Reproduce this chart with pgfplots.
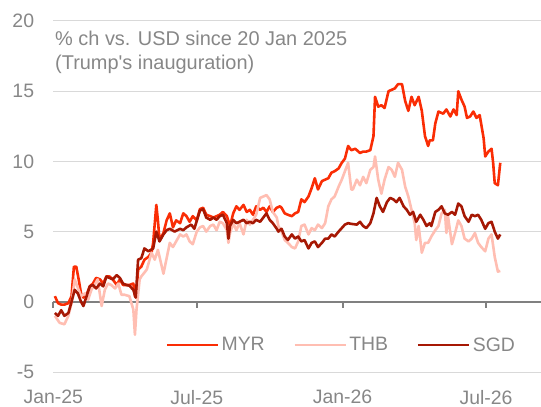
\documentclass[border=0pt]{standalone}
\usepackage{fontspec}
\setmainfont{Liberation Sans}
\usepackage{pgfplots}
\usepackage{pgfplotstable}
\pgfplotsset{compat=1.18}
\definecolor{myr}{RGB}{250,45,5}
\definecolor{thb}{RGB}{255,190,178}
\definecolor{sgd}{RGB}{166,24,4}
\definecolor{txtgray}{RGB}{135,135,135}
\definecolor{axgray}{RGB}{128,128,128}
\definecolor{gridgray}{RGB}{217,217,217}

% x = days since 1 Jan 2025, y = % change vs USD
\pgfplotstableread{
d v
2 0.4
6 -0.1
10 -0.2
14 -0.2
19 -0.1
23 0.4
26 2.5
29 2.5
32 1.6
35 0.6
38 0.3
42 0.5
46 1.1
50 1.3
54 1.7
59 1.6
63 1.3
67 1.8
71 1.8
75 1.6
80 1.2
84 1.6
88 1.2
92 1.2
96 1.2
101 1.3
103 0.4
105 0.3
107 2.3
111 2.5
115 3.0
120 3.2
124 3.5
126 4.2
130 6.9
132 5.8
134 4.4
139 4.9
143 5.8
147 6.3
151 5.3
155 5.8
160 5.6
164 6.3
168 6.1
172 5.7
176 6.1
181 5.8
185 6.6
189 6.7
193 6.2
198 6.1
202 6.0
206 6.1
210 6.2
214 6.4
219 6.1
223 5.4
227 6.3
231 6.8
235 6.55
240 6.9
244 6.4
248 6.55
252 6.2
256 6.8
261 6.55
265 6.7
269 6.4
273 6.8
277 6.4
282 6.7
286 6.8
288 6.7
292 6.3
296 6.2
301 6.1
305 6.3
309 6.4
313 7.3
317 7.1
322 7.5
326 8.1
330 8.8
334 8.0
339 8.6
343 8.7
347 8.8
351 9.2
355 9.3
360 9.5
364 9.9
368 10.2
372 11.1
376 10.8
381 10.9
387 10.6
391 10.7
395 10.7
400 10.8
404 11.8
406 14.6
410 13.9
414 14.0
418 13.8
423 15.0
427 15.1
431 15.2
435 15.5
440 15.5
444 14.3
448 13.6
452 14.6
456 14.0
461 14.6
465 13.6
469 11.8
473 11.1
475 11.5
479 11.5
482 12.7
486 13.55
492 13.4
496 13.7
501 13.2
505 13.7
509 13.3
511 15.0
515 14.4
519 13.9
522 13.1
526 13.2
530 13.55
534 13.1
538 13.3
543 11.65
545 10.35
549 10.7
553 10.9
555 9.9
557 8.45
561 8.3
564 9.9
}\myrdata

\pgfplotstableread{
d v
2 -1.0
8 -1.5
14 -1.6
19 -1.0
23 -0.1
27 1.6
31 1.0
35 0.4
40 0.6
44 0.15
48 0.85
52 1.2
56 1.6
61 -0.3
65 0.85
69 1.3
73 1.2
78 0.95
82 1.3
86 0.5
90 0.5
96 0.4
101 -0.55
103 -2.35
105 -0.55
109 1.6
111 1.8
118 2.3
124 3.5
128 3.0
132 3.7
139 2.0
143 3.1
147 4.2
151 3.9
155 4.3
160 4.8
164 4.65
168 4.8
172 4.3
176 4.1
181 5.0
185 5.3
189 5.4
193 5.0
198 5.4
202 5.5
206 5.1
210 5.7
214 5.6
219 5.1
221 4.2
223 4.9
227 5.6
231 5.1
235 5.6
240 4.8
244 5.84
248 5.5
252 5.84
256 6.2
261 7.4
265 7.5
269 7.6
273 7.3
277 6.4
282 6.0
284 5.4
288 5.0
292 4.4
296 4.2
301 3.9
305 3.8
309 4.3
313 5.4
317 5.5
322 4.8
326 5.25
330 5.1
334 5.5
339 5.25
343 5.6
347 6.8
351 7.3
355 7.5
360 8.2
364 8.7
368 9.3
372 9.9
376 8.0
378 8.0
383 8.7
387 8.3
391 8.9
395 8.45
400 9.4
404 9.6
406 10.35
410 8.7
414 7.7
418 8.7
423 9.6
427 9.4
431 8.9
435 9.9
440 9.4
444 8.2
448 7.5
452 6.55
456 5.6
458 4.4
461 5.4
465 3.5
469 4.2
473 4.2
477 4.65
482 5.1
486 5.4
490 6.3
494 6.55
496 4.9
498 6.1
503 4.1
507 4.9
511 5.8
515 5.4
519 4.5
524 4.3
528 4.5
532 4.9
536 4.2
540 3.9
545 3.6
549 4.5
553 4.8
557 3.2
561 2.15
564 2.2
}\thbdata

\pgfplotstableread{
d v
2 -0.8
6 -1.0
10 -0.6
14 -1.0
19 -0.8
23 0.0
27 0.85
31 0.6
35 0.0
38 -0.3
42 0.4
46 1.1
50 1.2
54 0.95
59 1.3
63 1.1
67 1.8
71 1.7
75 1.6
80 1.9
84 1.7
88 1.3
92 1.2
96 1.15
101 0.85
104 0.3
107 3.0
111 3.1
115 3.8
120 3.6
126 3.8
130 5.0
134 4.3
139 4.8
143 5.1
147 5.2
153 5.0
160 5.2
164 5.1
168 5.3
174 5.5
178 5.2
185 6.5
189 6.6
193 6.0
198 5.84
202 6.0
206 5.84
210 6.1
214 6.2
219 5.6
221 4.5
223 5.4
227 5.84
231 5.6
235 5.7
240 5.84
244 5.6
248 5.7
252 5.6
256 5.84
261 5.7
265 6.0
269 6.3
273 5.84
277 5.6
282 5.2
284 5.0
288 5.2
292 4.65
296 4.4
301 4.8
305 4.5
309 4.65
313 4.3
317 4.4
322 3.8
326 4.2
330 4.3
334 3.9
339 4.2
343 4.5
347 4.5
351 4.8
355 4.65
360 5.0
364 5.25
368 5.5
372 5.6
376 5.55
383 5.5
387 5.7
391 5.4
395 5.25
400 5.6
404 6.3
408 7.4
412 6.8
416 6.4
421 7.1
425 7.4
429 7.3
433 7.1
437 7.4
442 6.8
446 6.55
450 6.2
454 6.4
458 5.7
463 6.2
467 5.84
471 5.4
475 5.6
477 5.4
482 6.4
486 6.55
490 6.8
494 6.3
498 6.2
503 6.4
507 6.2
511 7.0
515 6.8
519 6.1
524 5.7
528 6.2
532 6.1
536 6.2
540 5.84
545 5.2
549 5.6
553 5.7
557 5.0
561 4.5
564 4.8
}\sgddata

\begin{document}
\begin{tikzpicture}
\begin{axis}[
  set layers,
  at={(0,0)}, anchor=south west,
  scale only axis, width=487.7bp, height=351bp,
  xmin=0, xmax=615.4, ymin=-5, ymax=20,
  enlargelimits=false, clip=false,
  axis line style={draw=none},
  xtick pos=bottom, ytick pos=left,
  xtick={0,181,365,546},
  xticklabels={Jan-25,Jul-25,Jan-26,Jul-26},
  ytick={-5,5,10,15,20},
  yticklabels={-5,5,10,15,20},
  extra y ticks={0},
  extra y tick labels={0},
  extra y tick style={grid=none},
  major tick length=0pt,
  tick style={draw=none},
  ymajorgrids=true,
  grid style={draw=gridgray, line width=1bp},
  ticklabel style={font=\fontsize{19.5}{22}\selectfont, text=txtgray, inner sep=0pt},
  xticklabel style={anchor=north, yshift=-18bp},
  yticklabel style={anchor=east, xshift=-19bp},
  legend style={at={(0.952,0.077)}, anchor=east, draw=none, fill=none,
    inner sep=0pt, font=\fontsize{19.5}{22}\selectfont, text=txtgray,
    nodes={inner sep=2.5bp},
    /tikz/every even column/.append style={column sep=26bp}},
  legend columns=3,
  legend cell align=left,
  legend image code/.code={\draw[#1] (0bp,0bp) -- (51bp,0bp);},
  every axis plot/.append style={line width=2.6bp, line join=round},
]
% zero line and the tick marks hanging from it (axis furniture, not data)
\addplot[forget plot, axgray, line width=2bp] coordinates {(0,0) (615.4,0)};
\addplot[forget plot, axgray, line width=2bp, line cap=butt] coordinates {(0,0) (0,-0.45)};
\addplot[forget plot, axgray, line width=2bp, line cap=butt] coordinates {(181,0) (181,-0.45)};
\addplot[forget plot, axgray, line width=2bp, line cap=butt] coordinates {(365,0) (365,-0.45)};
\addplot[forget plot, axgray, line width=2bp, line cap=butt] coordinates {(546,0) (546,-0.45)};
\addplot[myr] table[x=d,y=v] {\myrdata};
\addlegendentry{MYR}
\addplot[thb] table[x=d,y=v] {\thbdata};
\addlegendentry{THB}
\addplot[sgd] table[x=d,y=v] {\sgddata};
\addlegendentry{SGD}
\node[anchor=base west, inner sep=0pt, text=txtgray, font=\fontsize{20}{24}\selectfont]
  at (rel axis cs:0.0035,0.9288) {\% ch vs. USD since 20 Jan 2025};
\node[anchor=base west, inner sep=0pt, text=txtgray, font=\fontsize{20}{24}\selectfont]
  at (rel axis cs:0.0035,0.8604) {(Trump\textquotesingle s inauguration)};
\end{axis}
\pgfresetboundingbox
\path[use as bounding box] (-53.3bp,-35bp) rectangle (487.7bp,372bp);
\end{tikzpicture}
\end{document}
